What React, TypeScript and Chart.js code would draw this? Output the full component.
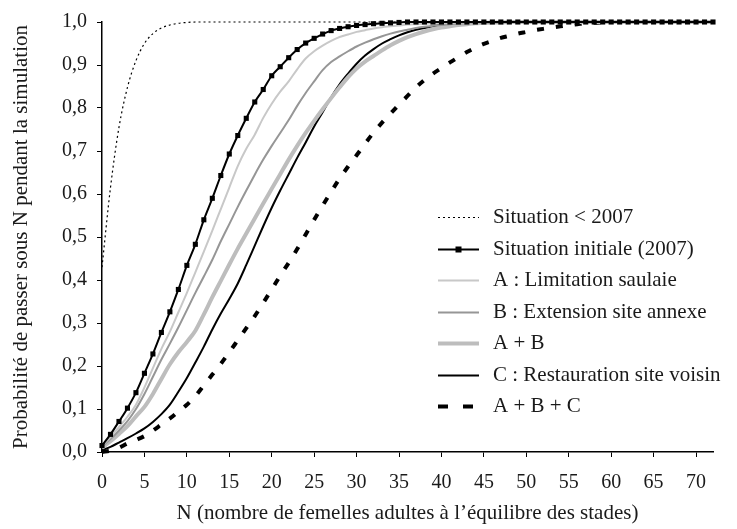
import React, { useEffect, useRef } from 'react';
import { Chart, registerables } from 'chart.js';

Chart.register(...registerables);

// ---- Data ----
const N_VALUES = [
  0, 1, 2, 3, 4, 5, 6, 7, 8, 9, 10, 11, 12, 13, 14, 15, 16, 17, 18, 19,
  20, 21, 22, 23, 24, 25, 26, 27, 28, 29, 30, 31, 32, 33, 34, 35, 36, 37, 38, 39,
  40, 41, 42, 43, 44, 45, 46, 47, 48, 49, 50, 51, 52, 53, 54, 55, 56, 57, 58, 59,
  60, 61, 62, 63, 64, 65, 66, 67, 68, 69, 70, 71, 72,
];

const X_TICKS = [0, 5, 10, 15, 20, 25, 30, 35, 40, 45, 50, 55, 60, 65, 70];
const Y_TICKS = [0, 0.1, 0.2, 0.3, 0.4, 0.5, 0.6, 0.7, 0.8, 0.9, 1.0];

const SITUATION_PRE_2007 = [
  0.43, 0.615, 0.755, 0.848, 0.91, 0.95, 0.973, 0.986, 0.993, 0.997,
  0.999, 1, 1, 1, 1, 1, 1, 1, 1, 1,
  1, 1, 1, 1, 1, 1, 1, 1, 1, 1, 1, 1, 1, 1, 1, 1, 1, 1, 1, 1,
  1, 1, 1, 1, 1, 1, 1, 1, 1, 1, 1, 1, 1, 1, 1, 1, 1, 1, 1, 1,
  1, 1, 1, 1, 1, 1, 1, 1, 1, 1, 1, 1, 1,
];

const SITUATION_2007 = [
  0.015, 0.041, 0.071, 0.102, 0.138, 0.183, 0.228, 0.278, 0.326, 0.378,
  0.434, 0.483, 0.54, 0.59, 0.643, 0.693, 0.736, 0.776, 0.814, 0.843,
  0.875, 0.896, 0.917, 0.936, 0.951, 0.962, 0.972, 0.98, 0.985, 0.989,
  0.992, 0.994, 0.996, 0.997, 0.998, 0.999, 1, 1, 1, 1,
  1, 1, 1, 1, 1, 1, 1, 1, 1, 1, 1, 1, 1, 1, 1, 1, 1, 1, 1, 1,
  1, 1, 1, 1, 1, 1, 1, 1, 1, 1, 1, 1, 1,
];

const SCENARIO_A = [
  0.015, 0.035, 0.058, 0.082, 0.11, 0.15, 0.195, 0.24, 0.28, 0.325,
  0.37, 0.418, 0.466, 0.515, 0.565, 0.615, 0.665, 0.705, 0.738, 0.777,
  0.81, 0.838, 0.862, 0.89, 0.915, 0.932, 0.945, 0.956, 0.965, 0.971,
  0.977, 0.981, 0.985, 0.988, 0.99, 0.992, 0.994, 0.995, 0.996, 0.997,
  0.998, 0.998, 0.999, 0.999, 0.999, 1, 1, 1, 1, 1,
  1, 1, 1, 1, 1, 1, 1, 1, 1, 1, 1, 1, 1, 1, 1, 1, 1, 1, 1, 1,
  1, 1, 1,
];

const SCENARIO_B = [
  0.013, 0.03, 0.05, 0.072, 0.1, 0.135, 0.175, 0.215, 0.252, 0.29,
  0.33, 0.37, 0.408, 0.447, 0.49, 0.53, 0.57, 0.608, 0.645, 0.68,
  0.712, 0.742, 0.772, 0.805, 0.835, 0.862, 0.888, 0.907, 0.92, 0.932,
  0.943, 0.952, 0.96, 0.967, 0.973, 0.978, 0.982, 0.986, 0.989, 0.991,
  0.993, 0.995, 0.996, 0.997, 0.998, 0.998, 0.999, 0.999, 1, 1,
  1, 1, 1, 1, 1, 1, 1, 1, 1, 1, 1, 1, 1, 1, 1, 1, 1, 1, 1, 1,
  1, 1, 1,
];

const SCENARIO_AB = [
  0.01, 0.025, 0.042, 0.06, 0.083, 0.105, 0.135, 0.17, 0.204, 0.232,
  0.256, 0.282, 0.32, 0.36, 0.398, 0.436, 0.473, 0.508, 0.543, 0.578,
  0.612, 0.646, 0.68, 0.712, 0.742, 0.77, 0.797, 0.823, 0.848, 0.872,
  0.892, 0.908, 0.921, 0.934, 0.946, 0.956, 0.965, 0.972, 0.978, 0.983,
  0.987, 0.99, 0.993, 0.995, 0.997, 0.998, 0.999, 0.999, 1, 1,
  1, 1, 1, 1, 1, 1, 1, 1, 1, 1, 1, 1, 1, 1, 1, 1, 1, 1, 1, 1,
  1, 1, 1,
];

const SCENARIO_C = [
  0.004, 0.012, 0.022, 0.032, 0.043, 0.055, 0.07, 0.088, 0.11, 0.14,
  0.172, 0.208, 0.245, 0.285, 0.322, 0.356, 0.392, 0.435, 0.48, 0.525,
  0.568, 0.608, 0.646, 0.684, 0.72, 0.757, 0.79, 0.825, 0.855, 0.88,
  0.903, 0.922, 0.937, 0.95, 0.96, 0.969, 0.976, 0.982, 0.986, 0.99,
  0.993, 0.995, 0.996, 0.997, 0.998, 0.999, 0.999, 1, 1, 1,
  1, 1, 1, 1, 1, 1, 1, 1, 1, 1, 1, 1, 1, 1, 1, 1, 1, 1, 1, 1,
  1, 1, 1,
];

const SCENARIO_ABC = [
  0, 0.003, 0.01, 0.02, 0.028, 0.037, 0.05, 0.064, 0.078, 0.094,
  0.11, 0.13, 0.155, 0.18, 0.205, 0.232, 0.26, 0.288, 0.316, 0.347,
  0.378, 0.41, 0.44, 0.472, 0.506, 0.54, 0.573, 0.605, 0.636, 0.664,
  0.69, 0.717, 0.743, 0.766, 0.787, 0.808, 0.828, 0.848, 0.865, 0.88,
  0.893, 0.906, 0.918, 0.93, 0.94, 0.949, 0.956, 0.963, 0.968, 0.973,
  0.977, 0.981, 0.984, 0.987, 0.99, 0.993, 0.995, 0.997, 0.998, 0.999,
  1, 1, 1, 1, 1, 1, 1, 1, 1, 1, 1, 1, 1,
];

const LABELS = [
  'Situation < 2007',
  'Situation initiale (2007)',
  'A : Limitation saulaie',
  'B : Extension site annexe',
  'A + B',
  'C : Restauration site voisin',
  'A + B + C',
];

const X_TITLE = 'N (nombre de femelles adultes à l\u2019équilibre des stades)';
const Y_TITLE = 'Probabilité de passer sous N pendant la simulation';

// ---- Styling ----
const FONT_FAMILY = '"Liberation Serif", "Times New Roman", serif';
const TEXT_COLOR = '#1a1a1a';

const toPoints = (ys: number[]) => N_VALUES.map((n, i) => ({ x: n, y: ys[i] }));

const insideLegend = {
  id: 'insideLegend',
  afterDraw(chart: any) {
    const ctx = chart.ctx as CanvasRenderingContext2D;
    const area = chart.chartArea;
    const x0 = area.left + 336;
    const x1 = area.left + 377;
    const tx = area.left + 391;
    const y0 = area.top + 195;
    const dy = 31.5;
    chart.data.datasets.forEach((ds: any, i: number) => {
      const y = Math.round(y0 + i * dy) + 0.5;
      ctx.save();
      ctx.strokeStyle = ds.borderColor;
      ctx.lineWidth = ds.borderWidth;
      ctx.lineCap = 'butt';
      ctx.setLineDash(ds.legendDash || []);
      ctx.beginPath();
      ctx.moveTo(x0, y);
      ctx.lineTo(x1, y);
      ctx.stroke();
      if (ds.pointRadius > 0) {
        ctx.setLineDash([]);
        ctx.fillStyle = ds.pointBackgroundColor;
        const s = 3;
        ctx.fillRect((x0 + x1) / 2 - s, y - s, 2 * s, 2 * s);
      }
      ctx.fillStyle = TEXT_COLOR;
      ctx.font = `21px ${FONT_FAMILY}`;
      ctx.textBaseline = 'middle';
      ctx.textAlign = 'left';
      ctx.fillText(ds.label, tx, y);
      ctx.restore();
    });
  },
};

export default function App() {
  const ref = useRef<HTMLCanvasElement>(null);

  useEffect(() => {
    if (!ref.current) return;
    const common = {
      pointRadius: 0,
      pointHoverRadius: 0,
      cubicInterpolationMode: 'monotone' as const,
      fill: false,
      clip: 8,
    };
    const chart = new Chart(ref.current, {
      type: 'line',
      data: {
        datasets: [
          {
            ...common,
            label: LABELS[0],
            data: toPoints(SITUATION_PRE_2007),
            borderColor: '#000',
            borderWidth: 1.2,
            borderDash: [2, 3],
            legendDash: [2, 3],
          } as any,
          {
            ...common,
            label: LABELS[1],
            data: toPoints(SITUATION_2007),
            borderColor: '#000',
            borderWidth: 2,
            pointRadius: 3.6,
            pointStyle: 'rect',
            pointBackgroundColor: '#000',
            pointBorderWidth: 0,
          } as any,
          {
            ...common,
            label: LABELS[2],
            data: toPoints(SCENARIO_A),
            borderColor: '#c8c8c8',
            borderWidth: 2,
          } as any,
          {
            ...common,
            label: LABELS[3],
            data: toPoints(SCENARIO_B),
            borderColor: '#969696',
            borderWidth: 2,
          } as any,
          {
            ...common,
            label: LABELS[4],
            data: toPoints(SCENARIO_AB),
            borderColor: '#bdbdbd',
            borderWidth: 4,
          } as any,
          {
            ...common,
            label: LABELS[5],
            data: toPoints(SCENARIO_C),
            borderColor: '#000',
            borderWidth: 2,
          } as any,
          {
            ...common,
            label: LABELS[6],
            data: toPoints(SCENARIO_ABC),
            borderColor: '#000',
            borderWidth: 4,
            borderDash: [7, 12],
            legendDash: [10, 15],
          } as any,
        ],
      },
      options: {
        responsive: false,
        devicePixelRatio: 1,
        animation: false,
        layout: { padding: { left: 0, top: 18, right: 24, bottom: 0 } },
        plugins: {
          legend: { display: false },
          tooltip: { enabled: false },
        },
        scales: {
          x: {
            type: 'linear',
            min: 0,
            max: 72,
            afterBuildTicks: (s: any) => {
              s.ticks = X_TICKS.map((v) => ({ value: v }));
            },
            afterFit: (s: any) => {
              s.height = 77;
            },
            ticks: {
              autoSkip: false,
              maxRotation: 0,
              padding: 14,
              color: TEXT_COLOR,
              font: { family: FONT_FAMILY, size: 20 },
              callback: (v: any) => String(v),
            },
            grid: {
              display: true,
              drawOnChartArea: false,
              drawTicks: true,
              tickLength: 5,
              color: '#000',
            },
            border: { display: true, color: '#000', width: 1.5 },
            title: {
              display: true,
              text: X_TITLE,
              color: TEXT_COLOR,
              font: { family: FONT_FAMILY, size: 21 },
              padding: { top: 0, bottom: 3 },
            },
          },
          y: {
            type: 'linear',
            min: 0,
            max: 1,
            afterBuildTicks: (s: any) => {
              s.ticks = Y_TICKS.map((v) => ({ value: v }));
            },
            afterFit: (s: any) => {
              s.width = 102;
            },
            ticks: {
              padding: 10,
              color: TEXT_COLOR,
              font: { family: FONT_FAMILY, size: 20 },
              callback: (v: any) => Number(v).toFixed(1).replace('.', ','),
            },
            grid: {
              display: true,
              drawOnChartArea: false,
              drawTicks: true,
              tickLength: 5,
              color: '#000',
            },
            border: { display: true, color: '#000', width: 1.5 },
            title: {
              display: true,
              text: Y_TITLE,
              color: TEXT_COLOR,
              font: { family: FONT_FAMILY, size: 21 },
              padding: { top: 9, bottom: 0 },
            },
          },
        },
      } as any,
      plugins: [insideLegend],
    });
    return () => chart.destroy();
  }, []);

  return (
    <div style={{ position: 'absolute', left: 0, top: 0, width: 737, height: 529, background: '#fff' }}>
      <canvas ref={ref} width={737} height={529} style={{ display: 'block' }} />
    </div>
  );
}
